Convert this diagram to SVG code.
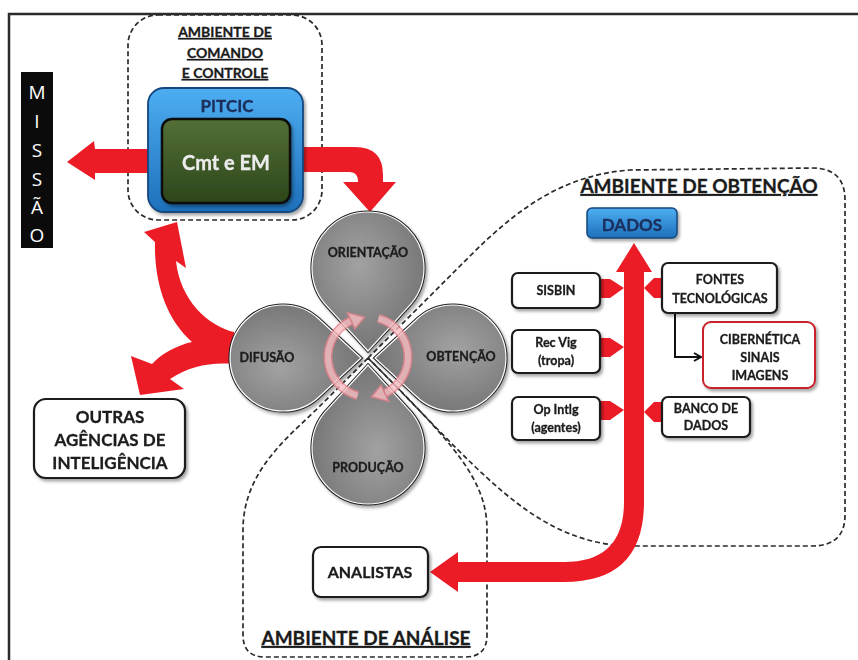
<svg xmlns="http://www.w3.org/2000/svg" width="858" height="660" viewBox="0 0 858 660">
<defs>
<style>
.t{font-family:Lato,"Open Sans","Liberation Sans",sans-serif;font-weight:700;fill:#1b1b1b;stroke:#1b1b1b;stroke-width:0.3;text-anchor:middle}
.ul{text-decoration:underline}
.dash{fill:none;stroke:#2a2a2a;stroke-width:1.7;stroke-dasharray:5 3}
.red{fill:#ec1c27}
.box{fill:#fff;stroke:#1a1a1a;stroke-width:2.2}
.po{fill:none;stroke:#1e1e1e;stroke-width:3.2}
.pi{fill:url(#gGray);stroke:#fff;stroke-width:1.2}
.cyc{fill:none;stroke-linecap:butt}
</style>
<filter id="sh" x="-20%" y="-20%" width="140%" height="140%"><feDropShadow dx="2" dy="2.5" stdDeviation="1.5" flood-color="#000" flood-opacity="0.35"/></filter>
<linearGradient id="gBlue" x1="0" y1="0" x2="0" y2="1"><stop offset="0" stop-color="#4eaef2"/><stop offset="1" stop-color="#1d70ba"/></linearGradient>
<linearGradient id="gGreen" x1="0" y1="0" x2="0" y2="1"><stop offset="0" stop-color="#536f36"/><stop offset="1" stop-color="#2d451b"/></linearGradient>
<radialGradient id="gGray" cx="0.42" cy="0.38" r="0.75"><stop offset="0" stop-color="#a2a2a2"/><stop offset="1" stop-color="#6c6c6c"/></radialGradient>
<path id="pV" d="M0,-7 L-39.6,-50.4 A56,56 0 1 1 39.6,-50.4 Z"/>
<path id="pH" d="M0,-7 L-37.5,-47.5 A53,53 0 1 1 37.5,-47.5 Z"/>
<marker id="ah" markerWidth="10" markerHeight="10" refX="8" refY="5" orient="auto" markerUnits="userSpaceOnUse"><path d="M1,1 L8,5 L1,9" fill="none" stroke="#111" stroke-width="2"/></marker>
</defs>

<rect width="858" height="660" fill="#fff"/>
<path d="M9,660 V14 H858" fill="none" stroke="#2b2b2b" stroke-width="2.5"/>

<g id="ambiente-comando">
<rect class="dash" x="128" y="15" width="194" height="205" rx="30"/>
<text class="t ul" x="225" y="37" font-size="14">AMBIENTE DE</text>
<text class="t ul" x="225" y="58" font-size="14">COMANDO</text>
<text class="t ul" x="225" y="78" font-size="14">E CONTROLE</text>
</g>

<g id="ambiente-obtencao">
<path class="dash" d="M368,358 L470,256 C520,206 565,175 630,170 L812,168 Q845,168 845,200 L845,515 Q845,546 812,546 L625,546 C530,540 480,470 368,358"/>
<text class="t ul" x="699" y="193" font-size="19">AMBIENTE DE OBTENÇÃO</text>
</g>

<g id="ambiente-analise">
<path class="dash" d="M368,358 L322,404 C290,436 243,470 243,530 L243,635 Q243,657 265,657 L465,657 Q487,657 487,635 L487,530 C487,480 455,445 368,358"/>
<text class="t ul" x="366" y="645" font-size="19">AMBIENTE DE ANÁLISE</text>
</g>

<g id="connectors">
<path class="red" d="M152,149 L95,149 L94,141 L67,162 L95,180 L95,173 L152,173 Z"/>
<path class="red" d="M300,147 L355,147 Q383,147 383,175 L383,182 L396,182 L370,212 L343,182 L358,182 Q358,172 350,172 L300,172 Z"/>
<path class="red" d="M234,332 C208,326 180,300 176,261 L186,268 L177,222 L144,232 L155,242 C154,280 165,318 192,342 C178,345 162,353 152,364 L131,356 L140,395 L184,389 L170,379 C190,366 210,362 234,364 Z"/>
<path class="red" d="M624,272 L616,272 L634,243 L652,272 L644,272 L644,502 Q644,582 564,582 L458,582 L458,592 L430,572 L458,552 L458,562 L564,562 Q624,562 624,502 Z"/>
<path class="red" d="M600,279 L610,279 L624,288 L610,298 L600,298 Z"/>
<path class="red" d="M600,338 L610,338 L624,347 L610,357 L600,357 Z"/>
<path class="red" d="M600,401 L610,401 L624,410 L610,420 L600,420 Z"/>
<path class="red" d="M663,278 L654,278 L644,288 L654,298 L663,298 Z"/>
<path class="red" d="M663,402 L654,402 L644,412 L654,422 L663,422 Z"/>
<path d="M675,313 L675,357 L701,357" fill="none" stroke="#111" stroke-width="2" marker-end="url(#ah)"/>
</g>

<g id="missao">
<rect x="21" y="72" width="32" height="176" fill="#0b0b0b"/>
<g font-family="'Open Sans',Lato,'Liberation Sans',sans-serif" font-size="19" fill="#fff" text-anchor="middle">
<text x="37" y="99">M</text>
<text x="37" y="128">I</text>
<text x="37" y="157">S</text>
<text x="37" y="186">S</text>
<text x="37" y="214">Ã</text>
<text x="37" y="242">O</text>
</g>
</g>

<g id="pitcic" filter="url(#sh)">
<rect x="148" y="88" width="155" height="124" rx="16" fill="url(#gBlue)" stroke="#15477d" stroke-width="1.8"/>
<text class="t" x="227" y="112" font-size="17" style="fill:#1b2e5c;stroke:#1b2e5c">PITCIC</text>
</g>
<g id="cmt-em" filter="url(#sh)">
<rect x="162" y="119" width="128" height="84" rx="10" fill="url(#gGreen)" stroke="#101010" stroke-width="2.5"/>
<text class="t" x="226" y="170" font-size="20" style="fill:#ececec;stroke:#ececec">Cmt e EM</text>
</g>

<g id="orientacao" filter="url(#sh)">
<use href="#pV" transform="translate(368,358)" class="po"/>
<use href="#pV" transform="translate(368,358)" class="pi"/>
<text class="t" x="368" y="257" font-size="12.5">ORIENTAÇÃO</text>
</g>
<g id="obtencao" filter="url(#sh)">
<use href="#pH" transform="translate(368,358) rotate(90)" class="po"/>
<use href="#pH" transform="translate(368,358) rotate(90)" class="pi"/>
<text class="t" x="461" y="361" font-size="12.5">OBTENÇÃO</text>
</g>
<g id="producao" filter="url(#sh)">
<use href="#pV" transform="translate(368,358) rotate(180)" class="po"/>
<use href="#pV" transform="translate(368,358) rotate(180)" class="pi"/>
<text class="t" x="368" y="472" font-size="12.5">PRODUÇÃO</text>
</g>
<g id="difusao" filter="url(#sh)">
<use href="#pH" transform="translate(368,358) rotate(270)" class="po"/>
<use href="#pH" transform="translate(368,358) rotate(270)" class="pi"/>
<text class="t" x="267" y="362" font-size="12.5">DIFUSÃO</text>
</g>

<g id="ciclo" opacity="0.8">
<path class="cyc" d="M378.4,318.4 A40,40 0 0 1 384.9,393.3" stroke="#e9828c" stroke-width="9"/>
<path class="cyc" d="M378.4,318.4 A40,40 0 0 1 384.9,393.3" stroke="#f8bcc1" stroke-width="6"/>
<polygon points="388.7,401.4 371.5,396.8 381.1,385.1" fill="#f8bcc1" stroke="#e9828c" stroke-width="1.5"/>
<path class="cyc" d="M357.6,395.6 A40,40 0 0 1 351.1,320.7" stroke="#e9828c" stroke-width="9"/>
<path class="cyc" d="M357.6,395.6 A40,40 0 0 1 351.1,320.7" stroke="#f8bcc1" stroke-width="6"/>
<polygon points="347.3,312.6 364.5,317.2 354.9,328.9" fill="#f8bcc1" stroke="#e9828c" stroke-width="1.5"/>
</g>

<g id="outras-agencias" filter="url(#sh)">
<rect class="box" x="34" y="399" width="151" height="79" rx="12"/>
<text class="t" x="110" y="423" font-size="17">OUTRAS</text>
<text class="t" x="110" y="446" font-size="17">AGÊNCIAS DE</text>
<text class="t" x="110" y="469" font-size="17">INTELIGÊNCIA</text>
</g>

<g id="dados" filter="url(#sh)">
<rect x="587" y="208" width="90" height="30" rx="5" fill="url(#gBlue)" stroke="#15477d" stroke-width="1.5"/>
<text class="t" x="632" y="231" font-size="17" style="fill:#1b2e5c;stroke:#1b2e5c">DADOS</text>
</g>

<g id="sisbin" filter="url(#sh)">
<rect class="box" x="512" y="273" width="88" height="35" rx="6"/>
<text class="t" x="556" y="295" font-size="12.5">SISBIN</text>
</g>
<g id="rec-vig" filter="url(#sh)">
<rect class="box" x="512" y="330" width="88" height="43" rx="6"/>
<text class="t" x="556" y="347" font-size="12.5">Rec Vig</text>
<text class="t" x="556" y="365" font-size="12.5">(tropa)</text>
</g>
<g id="op-intlg" filter="url(#sh)">
<rect class="box" x="512" y="397" width="88" height="43" rx="6"/>
<text class="t" x="556" y="414" font-size="12.5">Op Intlg</text>
<text class="t" x="556" y="432" font-size="12.5">(agentes)</text>
</g>
<g id="fontes-tecnologicas" filter="url(#sh)">
<rect class="box" x="662" y="263" width="115" height="50" rx="6"/>
<text class="t" x="720" y="284" font-size="12.5">FONTES</text>
<text class="t" x="720" y="303" font-size="12.5">TECNOLÓGICAS</text>
</g>
<g id="cibernetica" filter="url(#sh)">
<rect x="703" y="322" width="112" height="66" rx="8" fill="#fff" stroke="#c8202a" stroke-width="2"/>
<text class="t" x="760" y="344" font-size="12.5">CIBERNÉTICA</text>
<text class="t" x="760" y="362" font-size="12.5">SINAIS</text>
<text class="t" x="760" y="380" font-size="12.5">IMAGENS</text>
</g>
<g id="banco-dados" filter="url(#sh)">
<rect class="box" x="662" y="397" width="88" height="40" rx="6"/>
<text class="t" x="706" y="413" font-size="12.5">BANCO DE</text>
<text class="t" x="706" y="430" font-size="12.5">DADOS</text>
</g>
<g id="analistas" filter="url(#sh)">
<rect class="box" x="313" y="547" width="115" height="50" rx="8"/>
<text class="t" x="370" y="578" font-size="16">ANALISTAS</text>
</g>
</svg>
